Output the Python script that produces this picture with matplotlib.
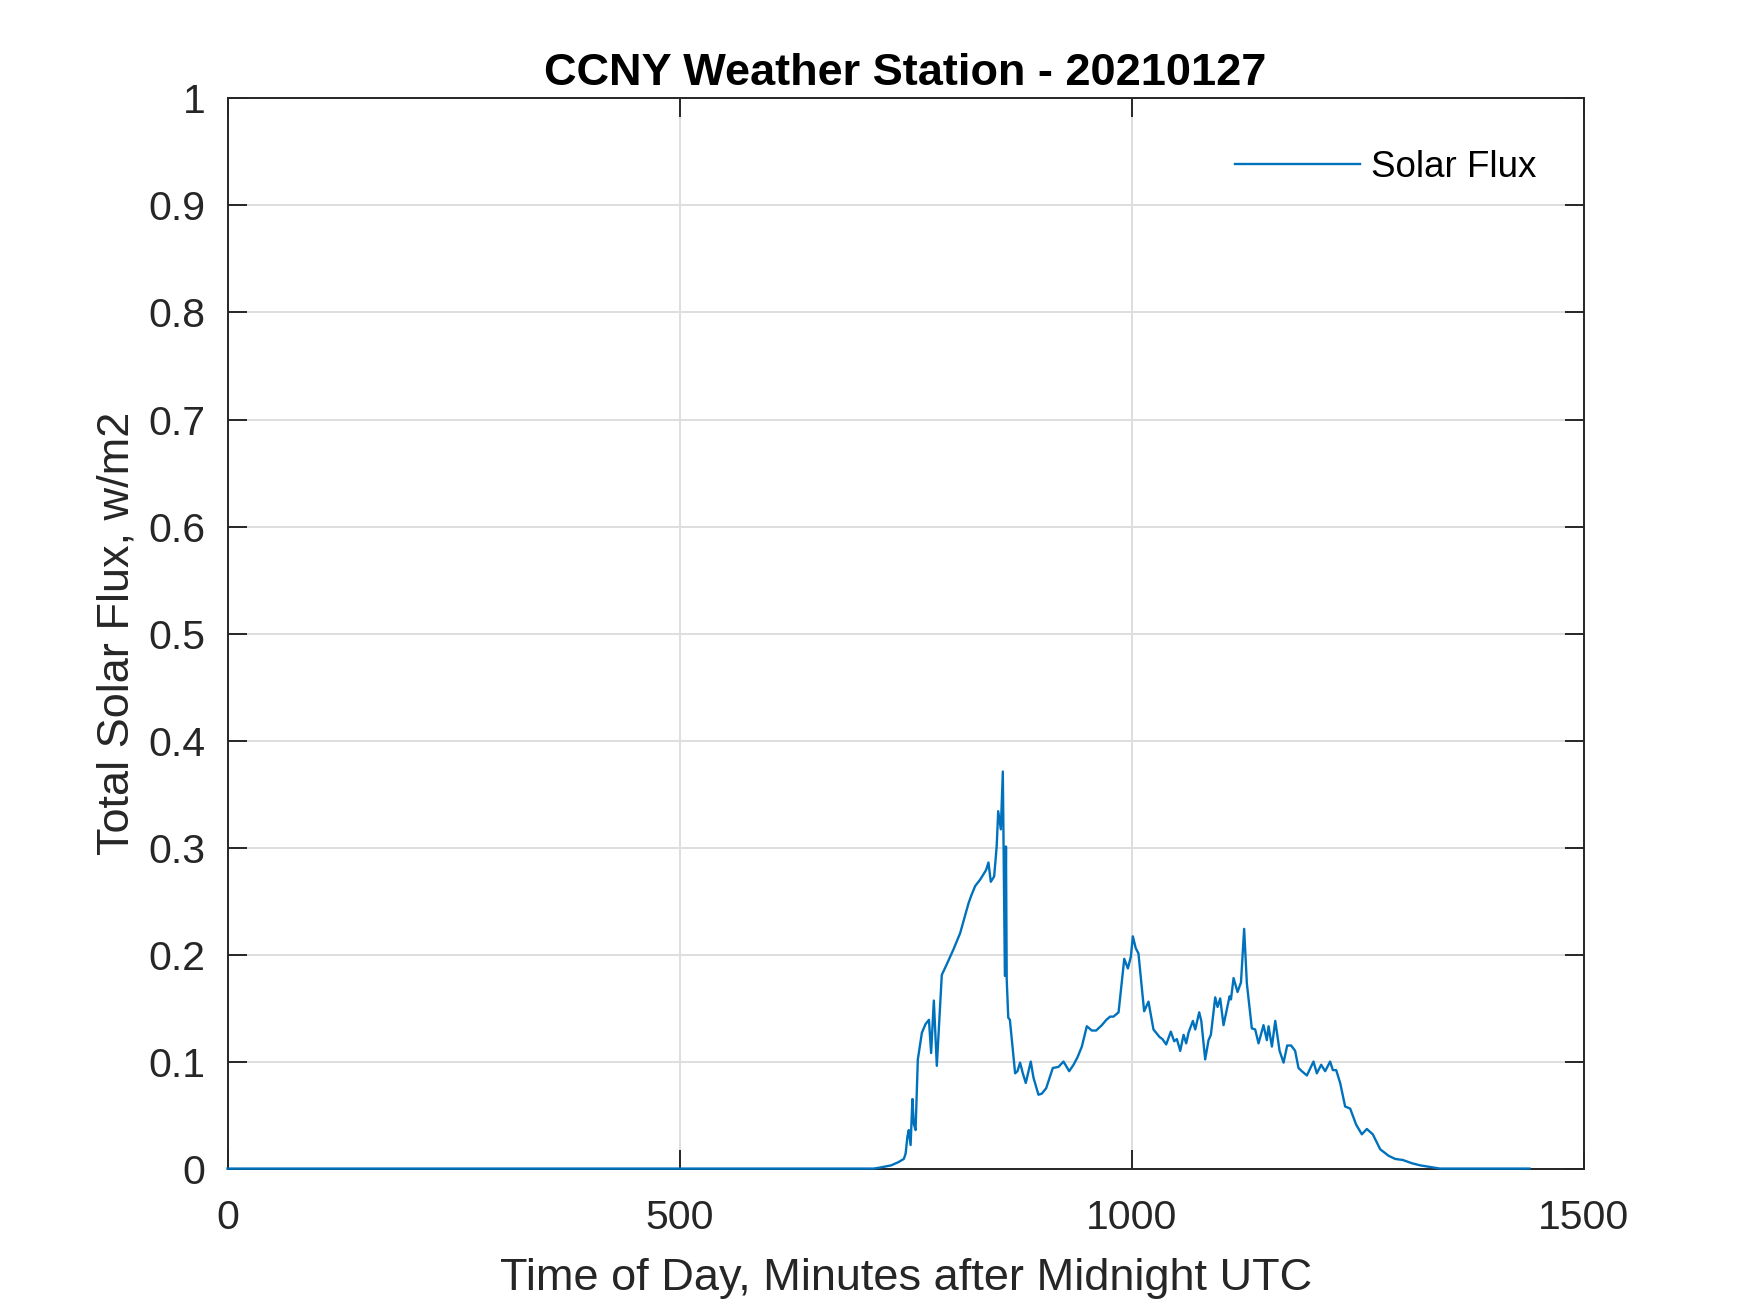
import matplotlib
matplotlib.use("Agg")
import matplotlib.pyplot as plt
from matplotlib.ticker import FuncFormatter

# digitized solar flux, minutes after midnight UTC
minutes = [0, 715, 722, 734, 742, 748, 750, 752, 753.5, 755.5, 757.5, 759, 761,
           763.5, 768, 772, 775.8, 778.2, 781.2, 784.5, 790, 795, 799.2, 803,
           810.3, 815, 819.6, 823, 826.9, 832.4, 836, 839, 841.6, 844.2, 847.9,
           850.7, 852.4, 855.3, 857.5, 859.8, 861.0, 861.8, 863.5, 865.3, 871.1,
           873.7, 876.6, 879.6, 882.9, 888.4, 891.4, 896.9, 900.6, 905.4, 912.8,
           919.0, 924.6, 930.9, 935.7, 940.1, 944.9, 950.4, 955.9, 960.7, 967.0,
           972, 976.2, 979.9, 985.5, 991.8, 995.8, 999.1, 1001.3, 1004.5, 1007.5,
           1013.8, 1018.6, 1024.1, 1030.8, 1034, 1038.2, 1043.3, 1047.0, 1050,
           1053.7, 1057.4, 1060.3, 1062.9, 1067.7, 1070.3, 1074.7, 1077, 1081.3,
           1085.0, 1087.6, 1092.4, 1095.0, 1097.9, 1101.6, 1108.3, 1109.8, 1112.7,
           1117.1, 1120.9, 1124.4, 1127.4, 1132.9, 1136.6, 1140.3, 1145.8, 1149.5,
           1151.4, 1155.1, 1158.8, 1163.6, 1168.0, 1172.0, 1176.4, 1180.8, 1184.5,
           1188.2, 1193.8, 1201.1, 1204.8, 1209.6, 1214.0, 1219.5, 1222.5, 1226.2,
           1230.6, 1236.1, 1241.7, 1248.3, 1254.6, 1260.1, 1266.7, 1274.9, 1284.1,
           1291.4, 1299.9, 1309.9, 1319.1, 1333.8, 1341, 1440]
flux = [0, 0, 0.001, 0.003, 0.006, 0.009, 0.014, 0.03, 0.036, 0.022, 0.065, 0.042,
        0.036, 0.102, 0.127, 0.135, 0.139, 0.108, 0.157, 0.096, 0.181, 0.19, 0.198,
        0.205, 0.220, 0.234, 0.248, 0.256, 0.264, 0.270, 0.275, 0.279, 0.286, 0.268,
        0.273, 0.301, 0.334, 0.317, 0.371, 0.180, 0.301, 0.177, 0.141, 0.139, 0.089,
        0.091, 0.099, 0.089, 0.080, 0.100, 0.085, 0.069, 0.070, 0.075, 0.094, 0.095,
        0.100, 0.091, 0.097, 0.104, 0.114, 0.133, 0.129, 0.129, 0.134, 0.139, 0.142,
        0.142, 0.146, 0.196, 0.187, 0.198, 0.217, 0.206, 0.201, 0.147, 0.156, 0.130,
        0.123, 0.121, 0.116, 0.128, 0.119, 0.121, 0.110, 0.125, 0.117, 0.127, 0.138,
        0.130, 0.146, 0.138, 0.102, 0.120, 0.125, 0.160, 0.151, 0.159, 0.134, 0.161,
        0.158, 0.178, 0.165, 0.174, 0.224, 0.173, 0.131, 0.130, 0.117, 0.134, 0.120,
        0.133, 0.114, 0.138, 0.110, 0.099, 0.115, 0.115, 0.110, 0.094, 0.091, 0.087,
        0.100, 0.089, 0.097, 0.091, 0.100, 0.092, 0.092, 0.080, 0.058, 0.056, 0.041,
        0.032, 0.037, 0.032, 0.018, 0.012, 0.009, 0.008, 0.005, 0.003, 0.001, 0, 0]

x_ticks = [0, 500, 1000, 1500]
y_ticks = [0, 0.1, 0.2, 0.3, 0.4, 0.5, 0.6, 0.7, 0.8, 0.9, 1]

plt.rcParams['font.family'] = ['Liberation Sans', 'DejaVu Sans']
dark = '#262626'

fig = plt.figure(figsize=(17.5, 13.13), dpi=100)
ax = fig.add_axes([0.13, 0.11, 0.775, 0.815])

ax.plot(minutes, flux, color='#0072BD', lw=1.7, label='Solar Flux',
        clip_on=False, zorder=3)

ax.set_xlim(0, 1500)
ax.set_ylim(0, 1)
ax.set_xticks(x_ticks)
ax.set_yticks(y_ticks)
ax.yaxis.set_major_formatter(FuncFormatter(lambda v, p: '%g' % v))

ax.grid(True, color='#dedede', lw=1.4)
ax.set_axisbelow(True)
for s in ax.spines.values():
    s.set_color(dark)
    s.set_linewidth(1.4)
ax.tick_params(direction='in', length=14, width=1.4, colors=dark,
               top=True, right=True, labelsize=29.5)
ax.tick_params(axis='x', pad=22)
ax.tick_params(axis='y', pad=16)

ax.set_title('CCNY Weather Station - 20210127', fontsize=32.5,
             fontweight='bold', pad=10)
ax.set_xlabel('Time of Day, Minutes after Midnight UTC', fontsize=32.5,
              color=dark, labelpad=15)
ax.set_ylabel('Total Solar Flux, w/m2', fontsize=32.5, color=dark, labelpad=8)

ax.legend(loc='upper right', bbox_to_anchor=(0.965, 0.952), frameon=False,
          fontsize=26.5, handlelength=3.4, handletextpad=0.29,
          borderpad=0, borderaxespad=0)

fig.savefig('out.png', dpi=100)
